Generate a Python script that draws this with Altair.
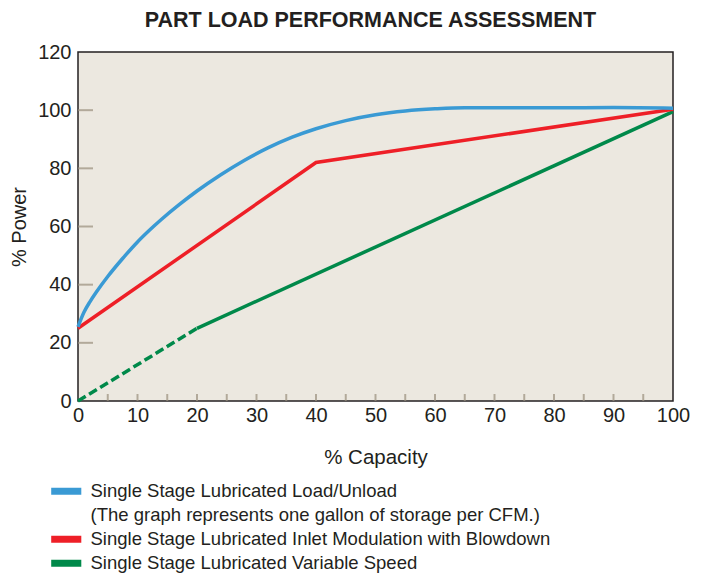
import altair as alt
import pandas as pd

# ---- data ----
blue_x = [0, 1, 2, 3, 5, 7.5, 10, 12, 14, 17, 20, 24, 28, 32, 36, 40, 45, 50, 55, 60, 65, 70, 80, 90, 100]
blue_y = [25.5, 30.5, 34.1, 37.2, 42.8, 49.0, 54.7, 58.7, 62.4, 67.5, 72.2, 77.8, 82.8, 87.1, 90.7,
          93.6, 96.4, 98.4, 99.7, 100.45, 100.85, 100.8, 100.8, 100.9, 100.7]
red_x = [0, 40, 100]
red_y = [25, 82, 100.3]
green_x = [20, 100]
green_y = [25, 99.5]
green_dash_x = [0, 20]
green_dash_y = [0, 25]

x_tick_labels = list(range(0, 101, 10))
y_tick_labels = list(range(0, 121, 20))
x_minor_ticks = list(range(5, 100, 5))
y_inner_ticks = [20, 40, 60, 80, 100]

S1 = "Single Stage Lubricated Load/Unload"
NOTE = "(The graph represents one gallon of storage per CFM.)"
S2 = "Single Stage Lubricated Inlet Modulation with Blowdown"
S3 = "Single Stage Lubricated Variable Speed"
series_names = [S1, NOTE, S2, S3]
series_colors = ["#3A9AD4", "transparent", "#EE1F27", "#00894A"]

FONT = "Liberation Sans"
TXT = "#231F20"
TICK = "#9A8E7C"

blue_df = pd.DataFrame({"x": blue_x, "y": blue_y, "series": S1})
red_df = pd.DataFrame({"x": red_x, "y": red_y, "series": S2})
green_df = pd.DataFrame({"x": green_x, "y": green_y, "series": S3})
dash_df = pd.DataFrame({"x": green_dash_x, "y": green_dash_y})
xt_df = pd.DataFrame({"x": x_minor_ticks})
yt_df = pd.DataFrame({"y": y_inner_ticks})

xenc = alt.X("x:Q", scale=alt.Scale(domain=[0, 100], nice=False),
             axis=alt.Axis(values=x_tick_labels, title="% Capacity", grid=False, domain=False,
                           ticks=False, labelFlush=False, labelPadding=4, titlePadding=22,
                           labelFontSize=20, titleFontSize=20.5, titleFontWeight="normal",
                           labelFont=FONT, titleFont=FONT, labelColor=TXT, titleColor=TXT))
yenc = alt.Y("y:Q", scale=alt.Scale(domain=[0, 120], nice=False),
             axis=alt.Axis(values=y_tick_labels, title="% Power", grid=False, domain=False,
                           ticks=False, labelPadding=7, titlePadding=8,
                           labelFontSize=20, titleFontSize=20, titleFontWeight="normal",
                           labelFont=FONT, titleFont=FONT, labelColor=TXT, titleColor=TXT))

color = alt.Color("series:N",
                  scale=alt.Scale(domain=series_names, range=series_colors),
                  legend=alt.Legend(title=None, orient="none", legendX=-21, legendY=430,
                                    direction="vertical", symbolType="M-4.3,0H4.3",
                                    symbolStrokeWidth=7, symbolSize=49,
                                    labelFont=FONT, labelFontSize=18.5, labelColor=TXT,
                                    labelOffset=15, rowPadding=-5.9, labelLimit=800, padding=0))

y_ticks_layer = alt.Chart(yt_df).mark_tick(orient="horizontal", size=30, thickness=2,
                                           color=TICK, clip=True).encode(
    x=alt.datum(0), y=alt.Y("y:Q"))
x_ticks_layer = alt.Chart(xt_df).mark_tick(orient="vertical", size=14, thickness=2,
                                           color=TICK, clip=True).encode(
    x=alt.X("x:Q"), y=alt.datum(0))

dash_layer = alt.Chart(dash_df).mark_line(strokeWidth=3.5, strokeDash=[9, 4],
                                          color="#00894A", strokeCap="butt").encode(
    x=alt.X("x:Q"), y=alt.Y("y:Q"))

green_layer = alt.Chart(green_df).mark_line(strokeWidth=3.5, strokeCap="butt").encode(
    x=xenc, y=yenc, color=color)
red_layer = alt.Chart(red_df).mark_line(strokeWidth=3.5, strokeCap="butt").encode(
    x=alt.X("x:Q"), y=alt.Y("y:Q"), color=alt.Color("series:N"))
blue_layer = alt.Chart(blue_df).mark_line(strokeWidth=3.5, interpolate="monotone",
                                          strokeCap="butt").encode(
    x=alt.X("x:Q"), y=alt.Y("y:Q"), color=alt.Color("series:N"))

chart = alt.layer(
    green_layer, y_ticks_layer, x_ticks_layer, dash_layer, red_layer, blue_layer
).properties(
    width=595, height=349,
    padding={"left": 70, "top": 44, "right": 25, "bottom": 172},
    autosize=alt.AutoSizeParams(type="none"),
    title=alt.Title("PART LOAD PERFORMANCE ASSESSMENT", font=FONT, fontSize=21.5,
                    fontWeight="bold", color=TXT, anchor="middle", offset=11, dx=-5),
).configure_view(
    fill="#ECE8E0", stroke="#231F20", strokeWidth=1.5
)

chart.save("out.html", embed_options={"renderer": "svg", "actions": False})
